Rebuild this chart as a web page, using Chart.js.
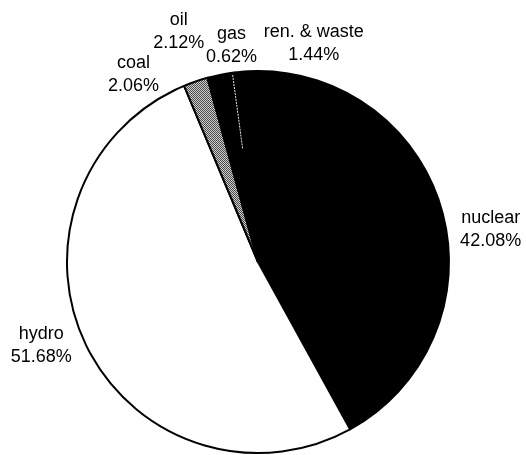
<!DOCTYPE html>
<html>
<head>
<meta charset="utf-8">
<title>Electricity generation by source</title>
<script src="https://cdn.jsdelivr.net/npm/chart.js@4"></script>
<style>
  body { margin: 0; background: #fff; }
  #wrap { width: 526px; height: 455px; }
</style>
</head>
<body>
<div id="wrap"><canvas id="pieChart" width="526" height="455"></canvas></div>
<script>
// categories, clockwise starting at the top
const categories = ['nuclear', 'hydro', 'coal', 'oil', 'gas', 'ren. & waste'];
const shares = [42.08, 51.68, 2.06, 2.12, 0.62, 1.44];
const shareLabels = ['42.08%', '51.68%', '2.06%', '2.12%', '0.62%', '1.44%'];

// where each label sits: angle (deg, clockwise from top) and distance as a multiple of the radius
const labelAngles = [82, 249, -33.5, -19, -7, 14.3];
const labelDist = [1.23, 1.215, 1.18, 1.275, 1.14, 1.18];

// grey stipple for coal
function stipple() {
    const c = document.createElement('canvas');
    c.width = 2; c.height = 2;
    const g = c.getContext('2d');
    g.fillStyle = '#cfcfcf'; g.fillRect(0, 0, 2, 2);
    g.fillStyle = '#4a4a4a'; g.fillRect(0, 0, 1, 1); g.fillRect(1, 1, 1, 1);
    return g.createPattern(c, 'repeat');
}

const ctx = document.getElementById('pieChart').getContext('2d');
const fills = ['#000000', '#ffffff', stipple(), '#000000', '#000000', '#000000'];

// labels outside the pie + the thin white line between oil and gas
const pieLabels = {
    id: 'pieLabels',
    afterDatasetsDraw(chart) {
        const meta = chart.getDatasetMeta(0);
        const c = chart.ctx;
        c.save();

        const gas = meta.data[4];
        const a = gas.startAngle;
        c.strokeStyle = '#e8e8e8';
        c.lineWidth = 1;
        c.setLineDash([2, 1]);
        c.beginPath();
        c.moveTo(gas.x + Math.cos(a) * gas.outerRadius * 0.6, gas.y + Math.sin(a) * gas.outerRadius * 0.6);
        c.lineTo(gas.x + Math.cos(a) * (gas.outerRadius - 2), gas.y + Math.sin(a) * (gas.outerRadius - 2));
        c.stroke();
        c.setLineDash([]);

        c.fillStyle = '#000';
        c.font = '18px "Liberation Sans", Arial, sans-serif';
        c.textAlign = 'center';
        c.textBaseline = 'middle';
        meta.data.forEach((el, i) => {
            const t = labelAngles[i] * Math.PI / 180;
            const d = labelDist[i] * el.outerRadius;
            const x = el.x + Math.sin(t) * d;
            const y = el.y - Math.cos(t) * d;
            c.fillText(categories[i], x, y - 11.5);
            c.fillText(shareLabels[i], x, y + 11.5);
        });
        c.restore();
    }
};

new Chart(ctx, {
    type: 'pie',
    data: {
        labels: categories,
        datasets: [{
            data: shares,
            backgroundColor: fills,
            borderColor: '#000',
            borderWidth: 2
        }]
    },
    options: {
        responsive: false,
        animation: false,
        rotation: -0.3,
        layout: { padding: { left: 66, right: 76, top: 70, bottom: 1 } },
        plugins: {
            legend: { display: false },
            tooltip: { enabled: false }
        }
    },
    plugins: [pieLabels]
});
</script>
</body>
</html>
